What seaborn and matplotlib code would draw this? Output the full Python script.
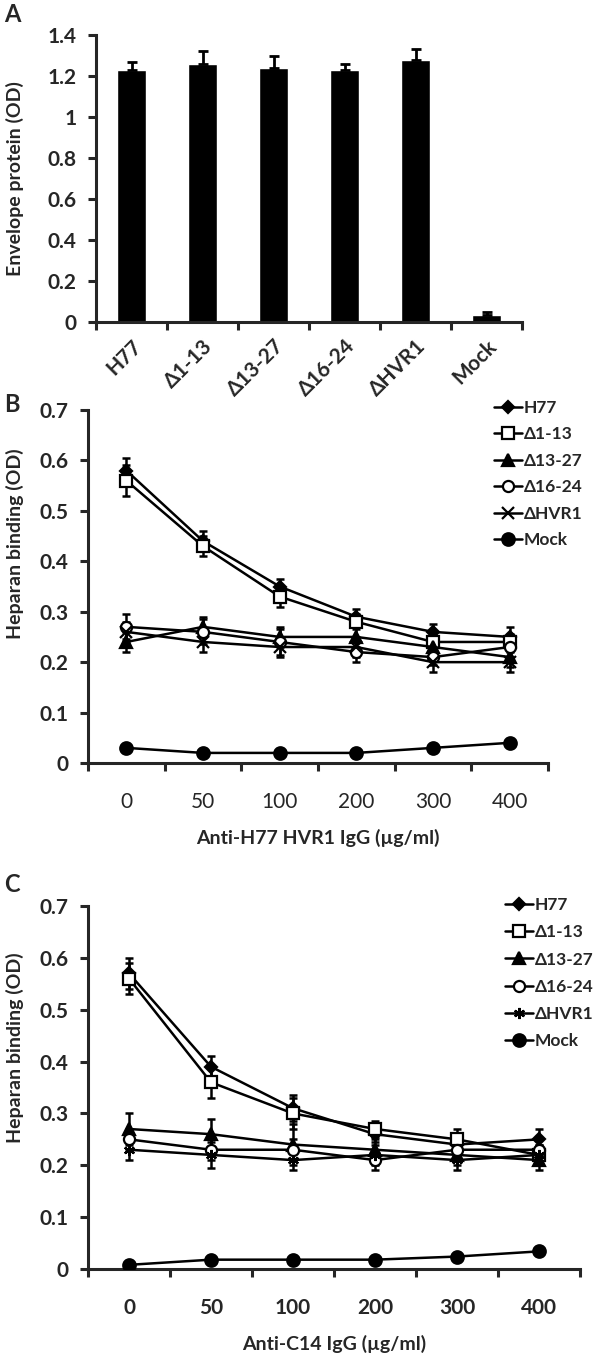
import numpy as np
import matplotlib
matplotlib.use("Agg")
import matplotlib.pyplot as plt
from matplotlib.ticker import FuncFormatter
from matplotlib.transforms import blended_transform_factory
import seaborn as sns

# Panel A: envelope protein
strains = ["H77", "Δ1-13", "Δ13-27", "Δ16-24", "ΔHVR1", "Mock"]
envelope_od = [1.23, 1.26, 1.24, 1.23, 1.28, 0.036]
envelope_err = [0.04, 0.06, 0.06, 0.03, 0.05, 0.014]

doses = ["0", "50", "100", "200", "300", "400"]

# Panel B: anti-H77 HVR1 IgG
b_values = {
    "H77":    [0.58, 0.44, 0.35, 0.29, 0.26, 0.25],
    "Δ1-13":  [0.56, 0.43, 0.33, 0.28, 0.24, 0.24],
    "Δ13-27": [0.24, 0.27, 0.25, 0.25, 0.23, 0.21],
    "Δ16-24": [0.27, 0.26, 0.24, 0.22, 0.21, 0.23],
    "ΔHVR1":  [0.26, 0.24, 0.23, 0.23, 0.20, 0.20],
    "Mock":   [0.03, 0.02, 0.02, 0.02, 0.03, 0.04],
}
b_errors = {
    "H77":    [0.025, 0.02, 0.015, 0.015, 0.015, 0.02],
    "Δ1-13":  [0.03, 0.02, 0.02, 0.015, 0.015, 0.015],
    "Δ13-27": [0.02, 0.02, 0.02, 0.02, 0.02, 0.02],
    "Δ16-24": [0.025, 0.025, 0.025, 0.02, 0.015, 0.02],
    "ΔHVR1":  [0.02, 0.02, 0.02, 0.02, 0.02, 0.02],
    "Mock":   [0.002, 0.002, 0.002, 0.002, 0.002, 0.002],
}

# Panel C: anti-C14 IgG
c_values = {
    "H77":    [0.57, 0.39, 0.31, 0.26, 0.24, 0.25],
    "Δ1-13":  [0.56, 0.36, 0.30, 0.27, 0.25, 0.22],
    "Δ13-27": [0.27, 0.26, 0.24, 0.23, 0.22, 0.21],
    "Δ16-24": [0.25, 0.23, 0.23, 0.21, 0.23, 0.23],
    "ΔHVR1":  [0.23, 0.22, 0.21, 0.22, 0.21, 0.22],
    "Mock":   [0.008, 0.018, 0.018, 0.018, 0.024, 0.034],
}
c_errors = {
    "H77":    [0.03, 0.02, 0.025, 0.015, 0.02, 0.02],
    "Δ1-13":  [0.03, 0.03, 0.03, 0.015, 0.02, 0.02],
    "Δ13-27": [0.03, 0.03, 0.04, 0.02, 0.02, 0.02],
    "Δ16-24": [0.02, 0.02, 0.02, 0.02, 0.02, 0.02],
    "ΔHVR1":  [0.02, 0.025, 0.02, 0.02, 0.02, 0.02],
    "Mock":   [0.002, 0.002, 0.002, 0.002, 0.002, 0.002],
}

sns.set_style("ticks")
plt.rcParams["font.family"] = ["Lato", "DejaVu Sans"]
plt.rcParams["font.weight"] = "bold"

W, H = 600, 1359
fig = plt.figure(figsize=(W / 100, H / 100), dpi=100)


def px_axes(left, top, right, bottom):
    return fig.add_axes([left / W, 1 - bottom / H, (right - left) / W, (bottom - top) / H])


def style_axes(ax, ymax, step):
    sns.despine(ax=ax)
    for s in ["left", "bottom"]:
        ax.spines[s].set_linewidth(2.2)
    ax.set_ylim(0, ymax)
    ax.set_yticks(np.arange(0, ymax + step / 2, step))
    ax.yaxis.set_major_formatter(FuncFormatter(lambda v, p: f"{round(v, 2):g}"))
    n = 6
    ax.set_xlim(-0.5, n - 0.5)
    ax.set_xticks(np.arange(n + 1) - 0.5, minor=True)
    ax.tick_params(axis="x", which="major", length=0)
    ax.tick_params(axis="x", which="minor", length=6, width=2.2, direction="out")
    ax.tick_params(axis="y", length=6, width=2.2, direction="out", labelsize=15, pad=8)
    plt.setp(ax.get_yticklabels(), fontweight="bold")


def place_ylabel(ax, text, frac, size):
    ax.set_ylabel(text, fontsize=size, fontweight="bold")
    ax.yaxis.set_label_coords(24 / W, frac,
                              transform=blended_transform_factory(fig.transFigure, ax.transAxes))


# ---- Panel A ----
axA = px_axes(96, 35, 522, 322)
sns.barplot(x=strains, y=envelope_od, color="black", saturation=1, width=0.4, ax=axA)
xa = np.arange(len(strains))
axA.errorbar(xa, envelope_od, yerr=[np.zeros(len(xa)), envelope_err], fmt="none",
             ecolor="black", elinewidth=2, capsize=3.5, capthick=2)
style_axes(axA, 1.4, 0.2)
axA.set_xticks(xa)
axA.set_xticklabels(strains, rotation=45, ha="right", rotation_mode="anchor",
                    fontsize=15, fontweight="bold")
axA.tick_params(axis="x", which="major", pad=10)
place_ylabel(axA, "Envelope protein (OD)", 0.5, 14)
fig.text(4 / W, 1 - 14 / H, "A", fontsize=17, fontweight="bold", va="center")

markers_b = {"H77": "D", "Δ1-13": "s", "Δ13-27": "^", "Δ16-24": "o", "ΔHVR1": "x", "Mock": "o"}
markers_c = dict(markers_b, **{"ΔHVR1": (6, 2, 0)})
faces = {"H77": "black", "Δ1-13": "white", "Δ13-27": "black", "Δ16-24": "white",
         "ΔHVR1": "black", "Mock": "black"}
sizes = {"H77": 6, "Δ1-13": 8, "Δ13-27": 8, "Δ16-24": 8, "ΔHVR1": 8, "Mock": 9}


def line_panel(ax, values, errors, markers, xlabel, xweight, legend_xy, ylab_frac, spacing):
    xs = np.arange(len(doses))
    for name in strains:
        ax.errorbar(xs, values[name], yerr=errors[name], fmt="none", ecolor="black",
                    elinewidth=1.8, capsize=3, capthick=1.8, zorder=2)
    for name in strains:
        sns.lineplot(x=xs, y=values[name], ax=ax, color="black", linewidth=1.8,
                     marker=markers[name], markersize=sizes[name],
                     markerfacecolor=faces[name], markeredgecolor="black",
                     markeredgewidth=1.6, label=name, zorder=3)
    style_axes(ax, 0.7, 0.1)
    ax.set_xticks(xs)
    ax.set_xticklabels(doses, fontsize=15, fontweight=xweight)
    ax.tick_params(axis="x", which="major", pad=21)
    ax.set_xlabel(xlabel, fontsize=14, fontweight="bold", labelpad=12)
    place_ylabel(ax, "Heparan binding (OD)", ylab_frac, 14)
    handles, labels = ax.get_legend_handles_labels()
    keep = [(h, l) for h, l in zip(handles, labels) if l in strains]
    ax.legend([h for h, _ in keep], [l for _, l in keep],
              loc="upper left", bbox_to_anchor=(legend_xy[0] / W, 1 - legend_xy[1] / H),
              bbox_transform=fig.transFigure, frameon=False, handlelength=1.6,
              handletextpad=0.1, labelspacing=spacing, borderaxespad=0, borderpad=0,
              prop={"weight": "bold", "size": 12.5})


# ---- Panel B ----
axB = px_axes(88, 410, 548, 763)
line_panel(axB, b_values, b_errors, markers_b, "Anti-H77 HVR1 IgG (µg/ml)", "normal",
           (494, 400), 0.62, 0.6)
fig.text(4 / W, 1 - 404 / H, "B", fontsize=17, fontweight="bold", va="center")

# ---- Panel C ----
axC = px_axes(88, 906, 580, 1269)
line_panel(axC, c_values, c_errors, markers_c, "Anti-C14 IgG (µg/ml)", "bold",
           (505, 897), 0.61, 0.65)
fig.text(4 / W, 1 - 885 / H, "C", fontsize=17, fontweight="bold", va="center")

fig.savefig("out.png", dpi=100, facecolor="white")
